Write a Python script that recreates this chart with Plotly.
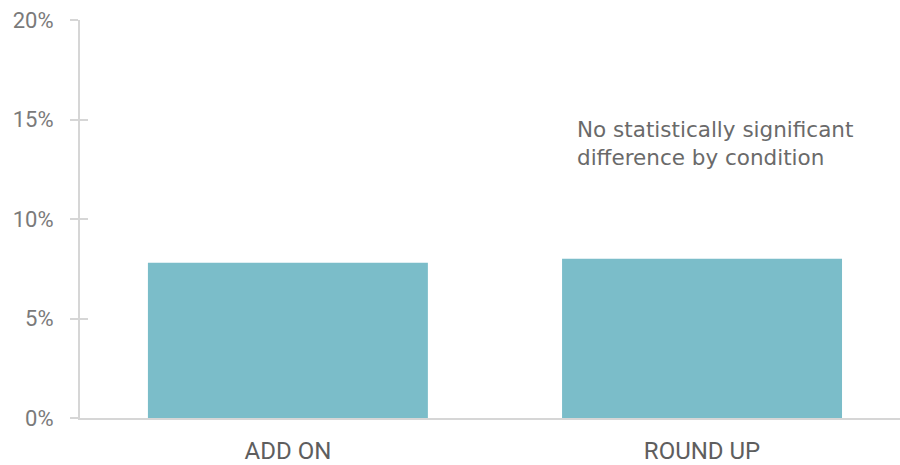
import plotly.graph_objects as go

categories = ["ADD ON", "ROUND UP"]
values = [7.8, 8.0]
tick_vals = [0, 5, 10, 15, 20]
tick_text = ["0%", "5%", "10%", "15%", "20%"]
note = "No statistically significant<br>difference by condition"

fig = go.Figure()
fig.add_trace(go.Bar(
    x=categories, y=values, width=0.676,
    marker=dict(color="#7bbdc9", line=dict(width=0)),
    hoverinfo="skip",
))

axis_grey = "#d6d6d6"
fig.update_layout(
    width=900, height=465,
    margin=dict(l=80, r=0, t=20, b=45),
    paper_bgcolor="white", plot_bgcolor="white",
    showlegend=False,
    font=dict(family="Roboto", color="#6e6e6e"),
    xaxis=dict(
        type="category", range=[-0.502, 1.478],
        showline=True, linecolor=axis_grey, linewidth=2,
        ticks="", showgrid=False, zeroline=False,
        ticklabelstandoff=10,
        tickfont=dict(size=24, color="#5e5e5e", family="Roboto"),
    ),
    yaxis=dict(
        range=[0, 20], tickvals=tick_vals, ticktext=tick_text,
        showline=True, linecolor=axis_grey, linewidth=2,
        ticks="outside", ticklen=8, tickcolor=axis_grey, tickwidth=2,
        ticklabelstandoff=12,
        showgrid=False, zeroline=False,
        tickfont=dict(size=22, color="#7a7a7a", family="Roboto"),
    ),
    yaxis2=dict(
        range=[0, 20], tickvals=tick_vals, overlaying="y", side="left",
        anchor="x", showline=False, showticklabels=False,
        ticks="inside", ticklen=8, tickcolor=axis_grey, tickwidth=2,
        showgrid=False, zeroline=False,
    ),
)
fig.add_trace(go.Scatter(x=[categories[0]], y=[None], yaxis="y2", showlegend=False, hoverinfo="skip"))

fig.add_annotation(
    x=0.693, y=15.25, xref="x", yref="y",
    text=note, showarrow=False, xanchor="left", yanchor="top", align="left",
    font=dict(size=21.5, color="#6a6a6a", family="DejaVu Sans"),
)

fig.write_html("out.html")
